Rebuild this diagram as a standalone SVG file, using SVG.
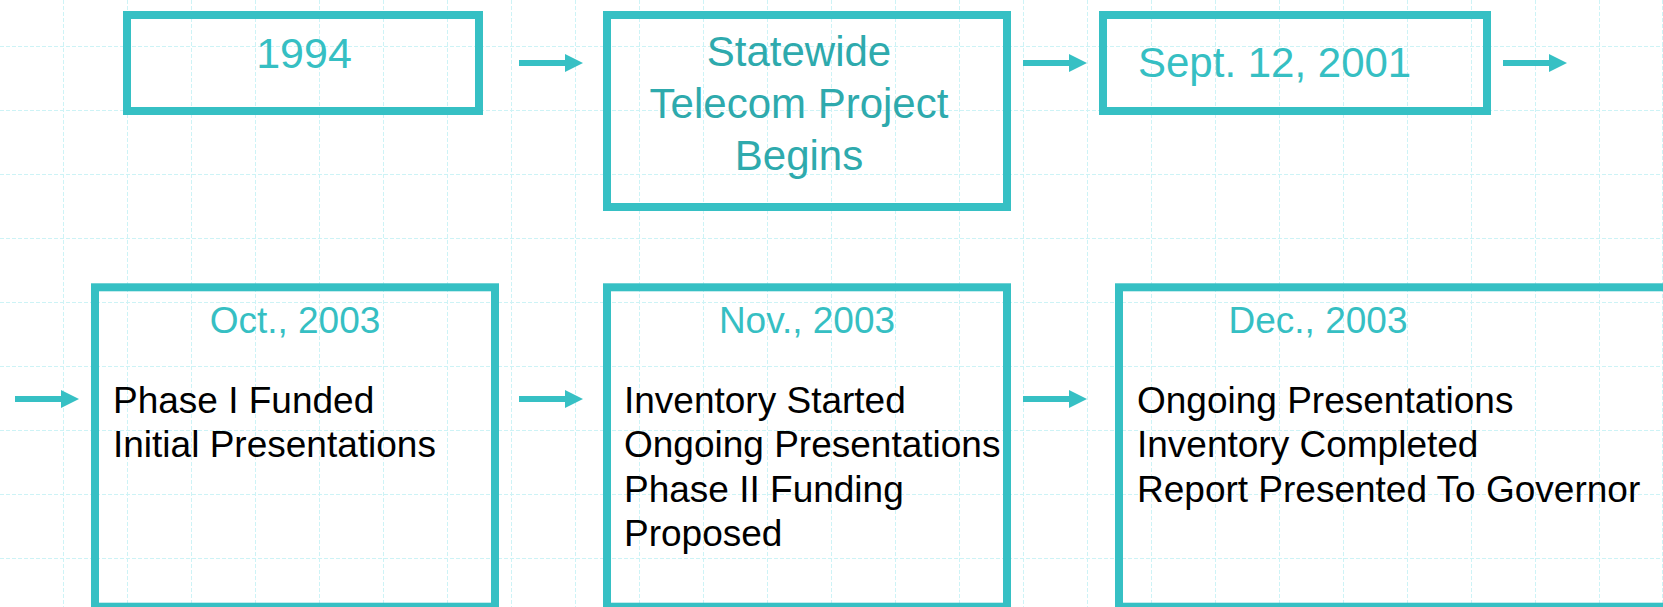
<svg xmlns="http://www.w3.org/2000/svg" width="1663" height="607" viewBox="0 0 1663 607">
<style>
.grid line{stroke:#cdf3f6;stroke-width:1;stroke-dasharray:4 2}
.box{fill:none;stroke:#36c0c4;stroke-width:8}
.title{font-family:"Liberation Sans",Arial,sans-serif;fill:#36bfc3;font-size:43px}
.title2{font-family:"Liberation Sans",Arial,sans-serif;fill:#2eaaad;font-size:42px;text-anchor:middle}
.head{font-family:"Liberation Sans",Arial,sans-serif;fill:#36bfc3;font-size:37px;text-anchor:middle}
.body{font-family:"Liberation Sans",Arial,sans-serif;fill:#000;font-size:37px}
.arrow{fill:#36c0c4}
</style>
<defs>
<path id="arr" d="M0,-3 L46,-3 L46,-9 L64,0 L46,9 L46,3 L0,3 Z"/>
</defs>
<rect width="1663" height="607" fill="#ffffff"/>
<g class="grid">
<line x1="0" y1="46.5" x2="1663" y2="46.5"/>
<line x1="0" y1="110.5" x2="1663" y2="110.5"/>
<line x1="0" y1="174.5" x2="1663" y2="174.5"/>
<line x1="0" y1="238.5" x2="1663" y2="238.5"/>
<line x1="0" y1="302.5" x2="1663" y2="302.5"/>
<line x1="0" y1="366.5" x2="1663" y2="366.5"/>
<line x1="0" y1="430.5" x2="1663" y2="430.5"/>
<line x1="0" y1="494.5" x2="1663" y2="494.5"/>
<line x1="0" y1="558.5" x2="1663" y2="558.5"/>
<line x1="63.5" y1="0" x2="63.5" y2="607"/>
<line x1="127.5" y1="0" x2="127.5" y2="607"/>
<line x1="191.5" y1="0" x2="191.5" y2="607"/>
<line x1="255.5" y1="0" x2="255.5" y2="607"/>
<line x1="319.5" y1="0" x2="319.5" y2="607"/>
<line x1="383.5" y1="0" x2="383.5" y2="607"/>
<line x1="447.5" y1="0" x2="447.5" y2="607"/>
<line x1="511.5" y1="0" x2="511.5" y2="607"/>
<line x1="575.5" y1="0" x2="575.5" y2="607"/>
<line x1="639.5" y1="0" x2="639.5" y2="607"/>
<line x1="703.5" y1="0" x2="703.5" y2="607"/>
<line x1="767.5" y1="0" x2="767.5" y2="607"/>
<line x1="831.5" y1="0" x2="831.5" y2="607"/>
<line x1="895.5" y1="0" x2="895.5" y2="607"/>
<line x1="959.5" y1="0" x2="959.5" y2="607"/>
<line x1="1023.5" y1="0" x2="1023.5" y2="607"/>
<line x1="1087.5" y1="0" x2="1087.5" y2="607"/>
<line x1="1151.5" y1="0" x2="1151.5" y2="607"/>
<line x1="1215.5" y1="0" x2="1215.5" y2="607"/>
<line x1="1279.5" y1="0" x2="1279.5" y2="607"/>
<line x1="1343.5" y1="0" x2="1343.5" y2="607"/>
<line x1="1407.5" y1="0" x2="1407.5" y2="607"/>
<line x1="1471.5" y1="0" x2="1471.5" y2="607"/>
<line x1="1535.5" y1="0" x2="1535.5" y2="607"/>
<line x1="1599.5" y1="0" x2="1599.5" y2="607"/>
<line x1="1662.5" y1="0" x2="1662.5" y2="607"/>
</g>
<g id="connectors">
<use href="#arr" class="arrow" x="519" y="63"/>
<use href="#arr" class="arrow" x="1023" y="63"/>
<use href="#arr" class="arrow" x="1503" y="63"/>
<use href="#arr" class="arrow" x="15" y="399"/>
<use href="#arr" class="arrow" x="519" y="399"/>
<use href="#arr" class="arrow" x="1023" y="399"/>
</g>
<g id="node-1994">
<rect class="box" x="127" y="15" width="352" height="96"/>
<text class="title" x="304" y="68" text-anchor="middle">1994</text>
</g>
<g id="node-statewide">
<rect class="box" x="607" y="15" width="400" height="192"/>
<text class="title2" x="799" y="66">Statewide</text>
<text class="title2" x="799" y="118">Telecom Project</text>
<text class="title2" x="799" y="170">Begins</text>
</g>
<g id="node-sept2001">
<rect class="box" x="1103" y="15" width="384" height="96"/>
<text class="title" x="1138" y="77" style="font-size:42px">Sept. 12, 2001</text>
</g>
<g id="node-oct2003">
<rect class="box" x="95" y="287.3" width="400" height="319.4"/>
<text class="head" x="295" y="333">Oct., 2003</text>
<text class="body" x="113" y="413">Phase I Funded</text>
<text class="body" x="113" y="457">Initial Presentations</text>
</g>
<g id="node-nov2003">
<rect class="box" x="607" y="287.3" width="400" height="319.4"/>
<text class="head" x="807" y="333">Nov., 2003</text>
<text class="body" x="624" y="413">Inventory Started</text>
<text class="body" x="624" y="457">Ongoing Presentations</text>
<text class="body" x="624" y="502">Phase II Funding</text>
<text class="body" x="624" y="546">Proposed</text>
</g>
<g id="node-dec2003">
<rect class="box" x="1119" y="287.3" width="1543" height="319.4"/>
<text class="head" x="1318" y="333">Dec., 2003</text>
<text class="body" x="1137" y="413">Ongoing Presentations</text>
<text class="body" x="1137" y="457">Inventory Completed</text>
<text class="body" x="1137" y="502">Report Presented To Governor</text>
</g>
</svg>
